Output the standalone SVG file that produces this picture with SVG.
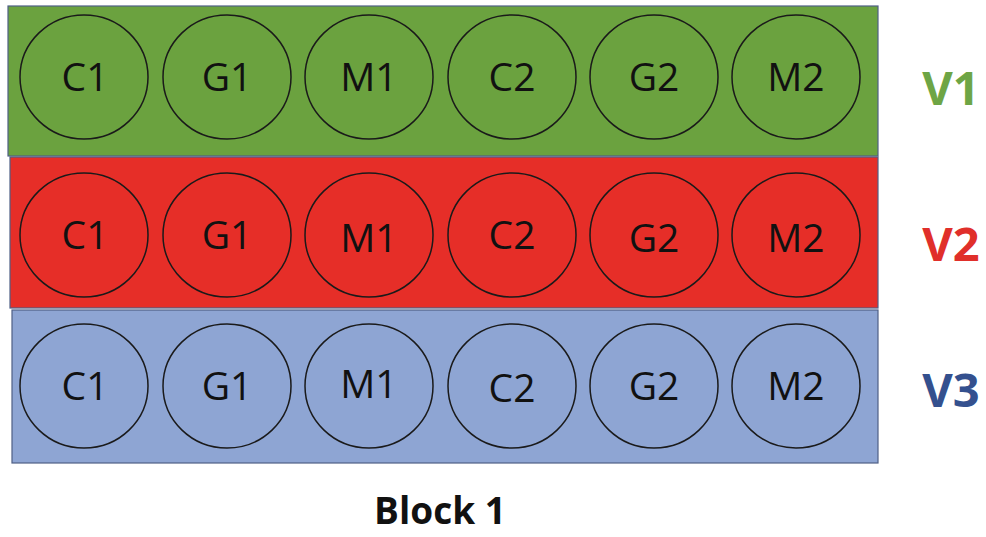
<svg xmlns="http://www.w3.org/2000/svg" width="986" height="537" viewBox="0 0 986 537">
  <style>
    .band { stroke: #4f5f85; stroke-width: 1.2; }
    .plot { fill: none; stroke: #1a1a1a; stroke-width: 1.5; }
    .plot-label { font-family: "Open Sans", "Liberation Sans", sans-serif; font-size: 39px; fill: #111; text-anchor: middle; }
    .row-label { font-family: "Open Sans", "Liberation Sans", sans-serif; font-weight: bold; font-size: 47px; text-anchor: middle; }
    .title { font-family: "Open Sans", "Liberation Sans", sans-serif; font-weight: bold; font-size: 37px; fill: #111; text-anchor: middle; }
  </style>
  <rect width="986" height="537" fill="#ffffff"/>

  <!-- Row V1 -->
  <g id="row-v1">
    <rect class="band" x="8" y="6" width="870" height="150" fill="#6ba23f"/>
    <g id="v1-c1"><ellipse class="plot" cx="84" cy="77" rx="64" ry="62"/><text class="plot-label" x="85" y="91">C1</text></g>
    <g id="v1-g1"><ellipse class="plot" cx="227" cy="77" rx="64" ry="62"/><text class="plot-label" x="227" y="91">G1</text></g>
    <g id="v1-m1"><ellipse class="plot" cx="369" cy="77" rx="64" ry="62"/><text class="plot-label" x="369" y="91">M1</text></g>
    <g id="v1-c2"><ellipse class="plot" cx="512" cy="77" rx="64" ry="62"/><text class="plot-label" x="512" y="91">C2</text></g>
    <g id="v1-g2"><ellipse class="plot" cx="654" cy="77" rx="64" ry="62"/><text class="plot-label" x="654" y="91">G2</text></g>
    <g id="v1-m2"><ellipse class="plot" cx="796" cy="77" rx="64" ry="62"/><text class="plot-label" x="796" y="91">M2</text></g>
    <text class="row-label" x="951" y="105" fill="#6ea545">V1</text>
  </g>

  <!-- Row V2 -->
  <g id="row-v2">
    <rect class="band" x="10" y="157" width="868" height="151" fill="#e62e28"/>
    <g id="v2-c1"><ellipse class="plot" cx="84" cy="235" rx="64" ry="62"/><text class="plot-label" x="85" y="249">C1</text></g>
    <g id="v2-g1"><ellipse class="plot" cx="227" cy="235" rx="64" ry="62"/><text class="plot-label" x="227" y="249">G1</text></g>
    <g id="v2-m1"><ellipse class="plot" cx="369" cy="235" rx="64" ry="62"/><text class="plot-label" x="369" y="252">M1</text></g>
    <g id="v2-c2"><ellipse class="plot" cx="512" cy="235" rx="64" ry="62"/><text class="plot-label" x="512" y="249">C2</text></g>
    <g id="v2-g2"><ellipse class="plot" cx="654" cy="235" rx="64" ry="62"/><text class="plot-label" x="654" y="252">G2</text></g>
    <g id="v2-m2"><ellipse class="plot" cx="796" cy="235" rx="64" ry="62"/><text class="plot-label" x="796" y="252">M2</text></g>
    <text class="row-label" x="951" y="261" fill="#e02f2a">V2</text>
  </g>

  <!-- Row V3 -->
  <g id="row-v3">
    <rect class="band" x="12" y="310" width="866" height="153" fill="#8ea5d3"/>
    <g id="v3-c1"><ellipse class="plot" cx="84" cy="386" rx="64" ry="62"/><text class="plot-label" x="85" y="400">C1</text></g>
    <g id="v3-g1"><ellipse class="plot" cx="227" cy="386" rx="64" ry="62"/><text class="plot-label" x="227" y="400">G1</text></g>
    <g id="v3-m1"><ellipse class="plot" cx="369" cy="386" rx="64" ry="62"/><text class="plot-label" x="369" y="398">M1</text></g>
    <g id="v3-c2"><ellipse class="plot" cx="512" cy="386" rx="64" ry="62"/><text class="plot-label" x="512" y="402">C2</text></g>
    <g id="v3-g2"><ellipse class="plot" cx="654" cy="386" rx="64" ry="62"/><text class="plot-label" x="654" y="400">G2</text></g>
    <g id="v3-m2"><ellipse class="plot" cx="796" cy="386" rx="64" ry="62"/><text class="plot-label" x="796" y="400">M2</text></g>
    <text class="row-label" x="951" y="407" fill="#34508e">V3</text>
  </g>

  <g id="connectors"></g>

  <text class="title" x="440" y="524">Block 1</text>
</svg>
